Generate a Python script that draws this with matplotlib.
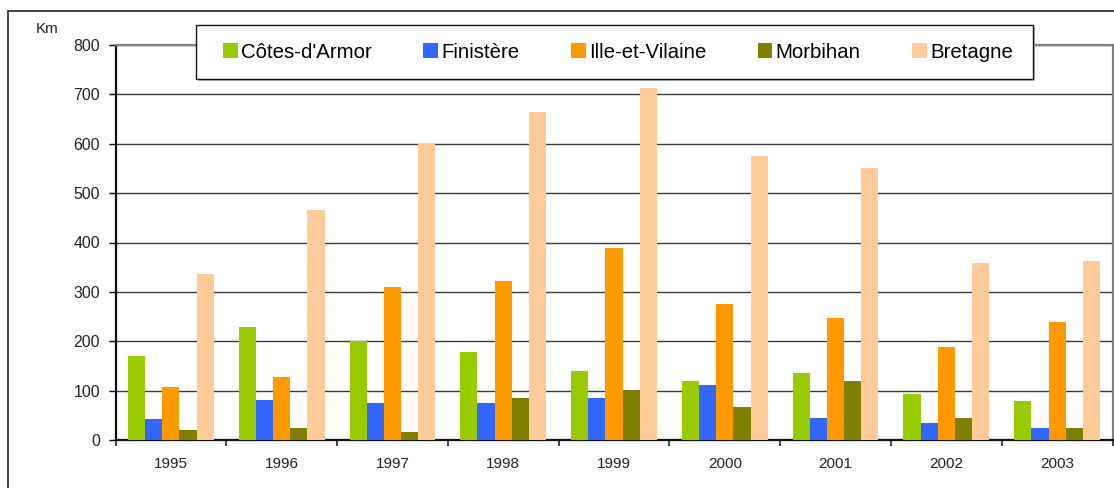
import matplotlib
matplotlib.use("Agg")
import matplotlib.pyplot as plt
from matplotlib.patches import Rectangle
import numpy as np

years = ["1995", "1996", "1997", "1998", "1999", "2000", "2001", "2002", "2003"]
cotes_armor = [170, 229, 200, 178, 140, 119, 136, 93, 79]
finistere = [42, 81, 75, 75, 85, 111, 45, 34, 24]
ille_et_vilaine = [107, 128, 309, 323, 388, 276, 248, 188, 238]
morbihan = [20, 24, 16, 85, 101, 67, 119, 45, 24]
bretagne = [337, 465, 600, 664, 712, 576, 550, 359, 363]

series_names = ["Côtes-d'Armor", "Finistère", "Ille-et-Vilaine", "Morbihan", "Bretagne"]
series_values = [cotes_armor, finistere, ille_et_vilaine, morbihan, bretagne]
colors = ["#99CC00", "#3366FF", "#FF9900", "#808000", "#FFCC99"]

plt.rcParams["font.family"] = ["Liberation Sans", "DejaVu Sans"]

W, H = 1114, 488
fig = plt.figure(figsize=(W / 100, H / 100), dpi=100)
ax = fig.add_axes([115.5 / W, 1 - 440 / H, (1112.5 - 115.5) / W, (440 - 45) / H])

x = np.arange(len(years))
bw = 0.155
handles = []
for k, (name, vals, c) in enumerate(zip(series_names, series_values, colors)):
    b = ax.bar(x + (k - 2) * bw, vals, width=bw, color=c, label=name, zorder=3, linewidth=0)
    handles.append(b)

ax.set_xlim(-0.5, len(years) - 0.5)
ax.set_ylim(0, 800)
ax.set_yticks(np.arange(0, 801, 100))
ax.yaxis.grid(True, color="#3a3a3a", linewidth=1.0, zorder=0)
ax.set_axisbelow(True)

ax.set_xticks(np.arange(-0.5, len(years), 1.0))
ax.set_xticklabels([])
ax.set_xticks(x, minor=True)
ax.set_xticklabels(years, minor=True, fontsize=11, color="#222222")
ax.tick_params(axis="x", which="major", length=4, width=1.2, direction="out", color="#222222")
ax.tick_params(axis="x", which="minor", length=0, pad=12)
ax.tick_params(axis="y", length=5, width=1.0, direction="out", labelsize=11.4, labelcolor="#222222", pad=6)

for side in ["left", "bottom"]:
    ax.spines[side].set_color("#111111")
    ax.spines[side].set_linewidth(1.6)
for side in ["top", "right"]:
    ax.spines[side].set_color("#808080")
    ax.spines[side].set_linewidth(1.6)

fig.text(47 / W, 1 - 29 / H, "Km", ha="center", va="center", fontsize=11, color="#222222")

# legend box (frame and shadow)
bx0, by0, bx1, by1 = 196, 25, 1033, 79
shadow = Rectangle(((bx0 + 2) / W, 1 - (by1 + 2) / H), (bx1 - bx0) / W, (by1 - by0) / H,
                   transform=fig.transFigure, facecolor="#bdbdbd", edgecolor="none", zorder=4)
box = Rectangle((bx0 / W, 1 - by1 / H), (bx1 - bx0) / W, (by1 - by0) / H,
                transform=fig.transFigure, facecolor="white", edgecolor="#111111",
                linewidth=1.0, zorder=5)
fig.patches.extend([shadow, box])

leg = fig.legend(handles=handles, labels=series_names, loc="center left",
                 bbox_to_anchor=(223 / W, 1 - 52 / H), bbox_transform=fig.transFigure,
                 ncol=5, fontsize=14.7, frameon=False, borderaxespad=0, borderpad=0,
                 handlelength=0.73, handleheight=0.73, handletextpad=0.15,
                 columnspacing=2.52)
leg.set_zorder(6)

frame = Rectangle((8 / W, -0.1), 1.0, (488 - 11) / H + 0.1, transform=fig.transFigure,
                  fill=False, edgecolor="#222222", linewidth=1.2, clip_on=False)
fig.patches.append(frame)

fig.savefig("out.png", dpi=100)
